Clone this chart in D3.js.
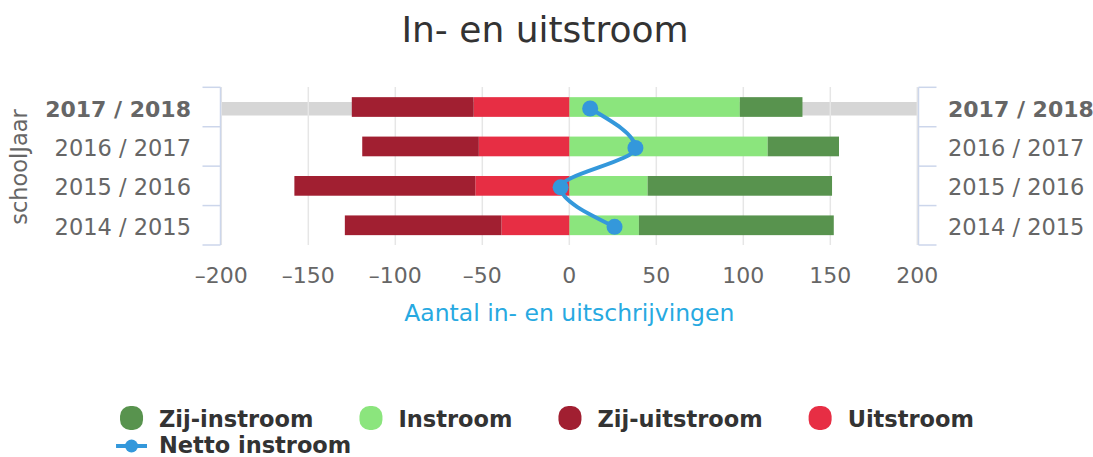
<!DOCTYPE html>
<html>
<head>
<meta charset="utf-8">
<script src="https://cdn.jsdelivr.net/npm/d3@7"></script>
<style>
  body { margin: 0; background: #fff; }
  text { font-family: "DejaVu Sans", sans-serif; }
</style>
</head>
<body>
<script>
// chart data
var categories = ["2017 / 2018", "2016 / 2017", "2015 / 2016", "2014 / 2015"];
var zijInstroom = [36, 41, 106, 112];
var instroom = [98, 114, 45, 40];
var zijUitstroom = [-70, -67, -104, -90];
var uitstroom = [-55, -52, -54, -39];
var nettoInstroom = [12, 38, -5, 26];
var xTicks = [-200, -150, -100, -50, 0, 50, 100, 150, 200];
var highlightCategory = "2017 / 2018";

var seriesNames = ["Zij-instroom", "Instroom", "Zij-uitstroom", "Uitstroom", "Netto instroom"];
var colors = {
  "Zij-instroom": "#58934e",
  "Instroom": "#8be57d",
  "Zij-uitstroom": "#a11f31",
  "Uitstroom": "#e72e44",
  "Netto instroom": "#3498db"
};

var width = 1093, height = 457;

var svg = d3.select("body").append("svg")
  .attr("width", width).attr("height", height);

var x = d3.scaleLinear().domain([-200, 200]).range([221.3, 917.3]);
var y = d3.scaleBand().domain(categories).range([87.3, 245]);

// table for the stack
var rows = categories.map(function (c, i) {
  return {
    cat: c,
    "Instroom": instroom[i],
    "Zij-instroom": zijInstroom[i],
    "Uitstroom": uitstroom[i],
    "Zij-uitstroom": zijUitstroom[i]
  };
});
var stack = d3.stack()
  .keys(["Instroom", "Zij-instroom", "Uitstroom", "Zij-uitstroom"])
  .offset(d3.stackOffsetDiverging);
var stacked = stack(rows);

// title
svg.append("text")
  .attr("x", 545).attr("y", 42)
  .attr("text-anchor", "middle")
  .attr("font-size", 36)
  .attr("fill", "#333")
  .text("In- en uitstroom");

// highlighted row band
svg.append("rect")
  .attr("x", x(-200)).attr("width", x(200) - x(-200))
  .attr("y", y(highlightCategory) + y.bandwidth() / 2 - 5)
  .attr("height", 13.5)
  .attr("fill", "#d6d6d6");

// grid lines
svg.append("g").selectAll("line")
  .data(xTicks)
  .enter().append("line")
  .attr("x1", function (d) { return x(d); })
  .attr("x2", function (d) { return x(d); })
  .attr("y1", 87).attr("y2", 245)
  .attr("stroke", "#e6e6e6")
  .attr("stroke-width", 1.5);

// stacked bars
var barH = y.bandwidth() * 0.5;
svg.append("g").selectAll("g")
  .data(stacked)
  .enter().append("g")
  .attr("fill", function (s) { return colors[s.key]; })
  .selectAll("rect")
  .data(function (s) { return s; })
  .enter().append("rect")
  .attr("x", function (d) { return x(Math.min(d[0], d[1])); })
  .attr("width", function (d) { return Math.abs(x(d[1]) - x(d[0])); })
  .attr("y", function (d) { return y(d.data.cat) + (y.bandwidth() - barH) / 2; })
  .attr("height", barH);

// left and right category axes
function catAxis(xLine, dir, anchor, labelX) {
  var g = svg.append("g");
  g.append("line")
    .attr("x1", xLine).attr("x2", xLine)
    .attr("y1", 87.3).attr("y2", 245)
    .attr("stroke", "#ccd6eb").attr("stroke-width", 1.5);
  var edges = categories.map(function (c) { return y(c); }).concat([y.range()[1]]);
  g.selectAll("line.tick")
    .data(edges)
    .enter().append("line")
    .attr("class", "tick")
    .attr("x1", xLine).attr("x2", xLine + dir * 18)
    .attr("y1", function (d) { return d; }).attr("y2", function (d) { return d; })
    .attr("stroke", "#ccd6eb").attr("stroke-width", 1.5);
  g.selectAll("text")
    .data(categories)
    .enter().append("text")
    .attr("x", labelX)
    .attr("y", function (c) { return y(c) + y.bandwidth() / 2 + 9.5; })
    .attr("text-anchor", anchor)
    .attr("font-size", function (c) { return c === highlightCategory ? 22 : 22.5; })
    .attr("font-weight", function (c) { return c === highlightCategory ? "bold" : "normal"; })
    .attr("fill", "#666")
    .text(function (c) { return c; });
}
catAxis(220.5, -1, "end", 191);
catAxis(918.5, 1, "start", 948);

svg.append("text")
  .attr("transform", "translate(27,167) rotate(-90)")
  .attr("text-anchor", "middle")
  .attr("font-size", 22.5)
  .attr("fill", "#666")
  .text("schoolJaar");

// x axis labels
svg.append("g").selectAll("text")
  .data(xTicks)
  .enter().append("text")
  .attr("x", function (d) { return x(d); })
  .attr("y", 283)
  .attr("text-anchor", "middle")
  .attr("font-size", 22)
  .attr("fill", "#666")
  .text(function (d) { return d < 0 ? "\u2013" + Math.abs(d) : d; });

svg.append("text")
  .attr("x", x(0)).attr("y", 321)
  .attr("text-anchor", "middle")
  .attr("font-size", 23.5)
  .attr("fill", "#27a9e1")
  .text("Aantal in- en uitschrijvingen");

// netto line
var pts = categories.map(function (c, i) {
  return [x(nettoInstroom[i]), y(c) + y.bandwidth() / 2 + 1.5];
});
svg.append("path")
  .attr("d", d3.line().curve(d3.curveMonotoneY)(pts))
  .attr("fill", "none")
  .attr("stroke", colors["Netto instroom"])
  .attr("stroke-width", 4);
svg.append("g").selectAll("circle")
  .data(pts)
  .enter().append("circle")
  .attr("cx", function (d) { return d[0]; })
  .attr("cy", function (d) { return d[1]; })
  .attr("r", 8)
  .attr("fill", colors["Netto instroom"]);

// legend
var legend = svg.append("g");
var items = legend.selectAll("g")
  .data(seriesNames)
  .enter().append("g");
items.append("text")
  .attr("x", 40)
  .attr("font-size", 22.5)
  .attr("font-weight", "bold")
  .attr("fill", "#333")
  .text(function (d) { return d; });
items.each(function (d) {
  var g = d3.select(this);
  if (d === "Netto instroom") {
    g.append("line").attr("x1", -3).attr("x2", 28).attr("y1", -7).attr("y2", -7)
      .attr("stroke", colors[d]).attr("stroke-width", 4);
    g.append("circle").attr("cx", 12.5).attr("cy", -7).attr("r", 6.5).attr("fill", colors[d]);
  } else {
    g.append("rect").attr("x", 1).attr("y", -21).attr("width", 23).attr("height", 24)
      .attr("rx", 10).attr("fill", colors[d]);
  }
});
var widths = [];
items.select("text").each(function () { widths.push(40 + this.getComputedTextLength()); });
var rowW = widths[0] + widths[1] + widths[2] + widths[3] + 3 * 45;
var startX = 546.5 - rowW / 2;
var cx = startX;
items.attr("transform", function (d, i) {
  if (i === 4) return "translate(" + startX + ",453)";
  var t = "translate(" + cx + ",427)";
  cx += widths[i] + 45;
  return t;
});
</script>
</body>
</html>
